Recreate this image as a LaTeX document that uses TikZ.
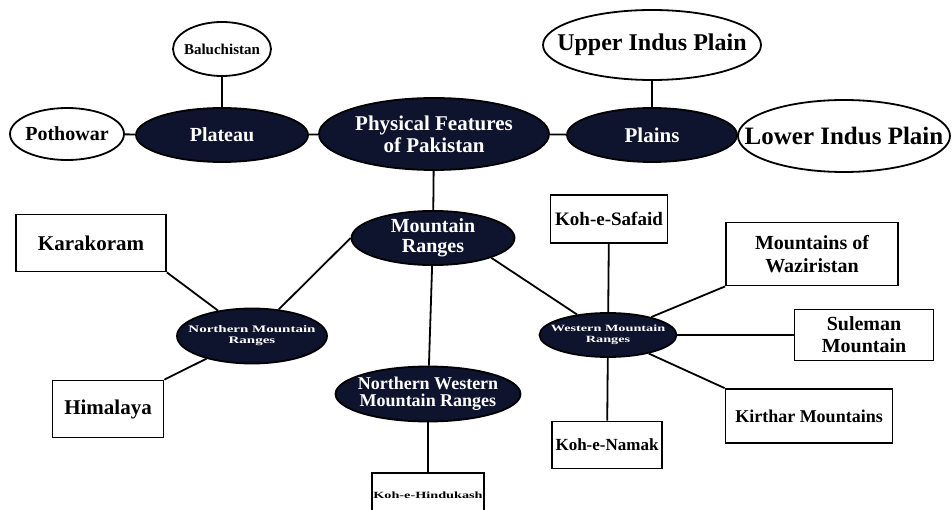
\documentclass[tikz,border=0pt]{standalone}
\usepackage{fontspec}
\setmainfont{Liberation Serif}
\newfontfamily\widefont[FakeStretch=1.5]{Liberation Serif}
\usepackage{tikz}
\usetikzlibrary{shapes,positioning}
\definecolor{navy}{RGB}{14,20,45}

\begin{document}
\begin{tikzpicture}[x=1pt,y=-1pt,line width=1.8pt,
  darknode/.style={ellipse,draw=black,fill=navy,text=white,inner sep=0pt,align=center},
  lightnode/.style={ellipse,draw=black,fill=white,inner sep=0pt,align=center},
  boxnode/.style={rectangle,draw=black,fill=white,inner sep=1pt,align=center}]

\useasboundingbox (0,0) rectangle (952,510);

% top row
\node[lightnode,minimum width=98,minimum height=54,font=\bfseries\fontsize{15}{16}\selectfont] (balu) at (222,49) {\makebox[0pt]{Baluchistan}};
\node[lightnode,minimum width=114,minimum height=52,font=\bfseries\fontsize{20}{22}\selectfont] (potho) at (67,134) {\makebox[0pt]{Pothowar}};
\node[darknode,minimum width=172,minimum height=54,font=\bfseries\fontsize{20}{22}\selectfont] (plateau) at (222,135) {\makebox[0pt]{Plateau}};
\node[darknode,minimum width=230,minimum height=72,font=\bfseries\fontsize{21}{22}\selectfont] (phys) at (434,134) {\makebox[0pt]{Physical Features}\\\makebox[0pt]{of Pakistan}};
\node[darknode,minimum width=170,minimum height=54,font=\bfseries\fontsize{21}{22}\selectfont] (plains) at (652,135) {\makebox[0pt]{Plains}};
\node[lightnode,minimum width=218,minimum height=70,font=\bfseries\fontsize{24}{26}\selectfont] (upper) at (652,45) {\makebox[0pt]{Upper Indus Plain}};
\node[lightnode,minimum width=212,minimum height=72,font=\bfseries\fontsize{25}{26}\selectfont] (lower) at (844,136) {\makebox[0pt]{Lower Indus Plain}};

% mountain ranges
\node[darknode,minimum width=163,minimum height=52,font=\bfseries\fontsize{20}{20}\selectfont] (mount) at (433,238) {\makebox[0pt]{Mountain}\\\makebox[0pt]{Ranges}};
\node[darknode,minimum width=150,minimum height=55,font=\widefont\bfseries\fontsize{10}{11}\selectfont] (north) at (252,336) {\makebox[0pt]{Northern Mountain}\\\makebox[0pt]{Ranges}};
\node[darknode,minimum width=185,minimum height=55,font=\bfseries\fontsize{18}{17}\selectfont] (nw) at (428,394) {\makebox[0pt]{Northern Western}\\\makebox[0pt]{Mountain Ranges}};
\node[darknode,minimum width=137,minimum height=44,font=\widefont\bfseries\fontsize{9.5}{11}\selectfont] (west) at (608,335) {\makebox[0pt]{Western Mountain}\\\makebox[0pt]{Ranges}};

% boxes
\node[boxnode,minimum width=150,minimum height=57,font=\bfseries\fontsize{21}{22}\selectfont] (kara) at (91,243) {Karakoram};
\node[boxnode,minimum width=111,minimum height=57,font=\bfseries\fontsize{21}{22}\selectfont] (hima) at (108,409) {Himalaya};
\node[boxnode,minimum width=110,minimum height=44,font=\widefont\bfseries\fontsize{9.5}{11}\selectfont] (hindu) at (428,495) {Koh-e-Hindukash};
\node[boxnode,minimum width=117,minimum height=48,font=\bfseries\fontsize{19}{20}\selectfont] (safaid) at (609,219) {Koh-e-Safaid};
\node[boxnode,minimum width=172,minimum height=63,font=\bfseries\fontsize{20}{23}\selectfont] (wazir) at (812,254) {Mountains of\\Waziristan};
\node[boxnode,minimum width=139,minimum height=51,font=\bfseries\fontsize{20}{22}\selectfont] (sule) at (864,335) {Suleman\\Mountain};
\node[boxnode,minimum width=167,minimum height=54,font=\bfseries\fontsize{18}{20}\selectfont] (kirthar) at (809,416) {Kirthar Mountains};
\node[boxnode,minimum width=110,minimum height=47,font=\bfseries\fontsize{17}{18}\selectfont] (namak) at (607,445) {Koh-e-Namak};

% links
\draw (balu) -- (plateau);
\draw (potho) -- (plateau);
\draw (plateau) -- (phys);
\draw (phys) -- (plains);
\draw (plains) -- (upper);
\draw (plains) -- (lower);
\draw (phys) -- (mount);
\draw (mount.west) -- (north);
\draw (mount) -- (nw);
\draw (mount.south east) -- (west);
\draw (kara.south east) -- (north);
\draw (hima.north east) -- (north);
\draw (nw) -- (hindu);
\draw (safaid) -- (west);
\draw (west) -- (wazir.south west);
\draw (west) -- (sule);
\draw (west) -- (kirthar.north west);
\draw (west) -- (namak);

\end{tikzpicture}
\end{document}
